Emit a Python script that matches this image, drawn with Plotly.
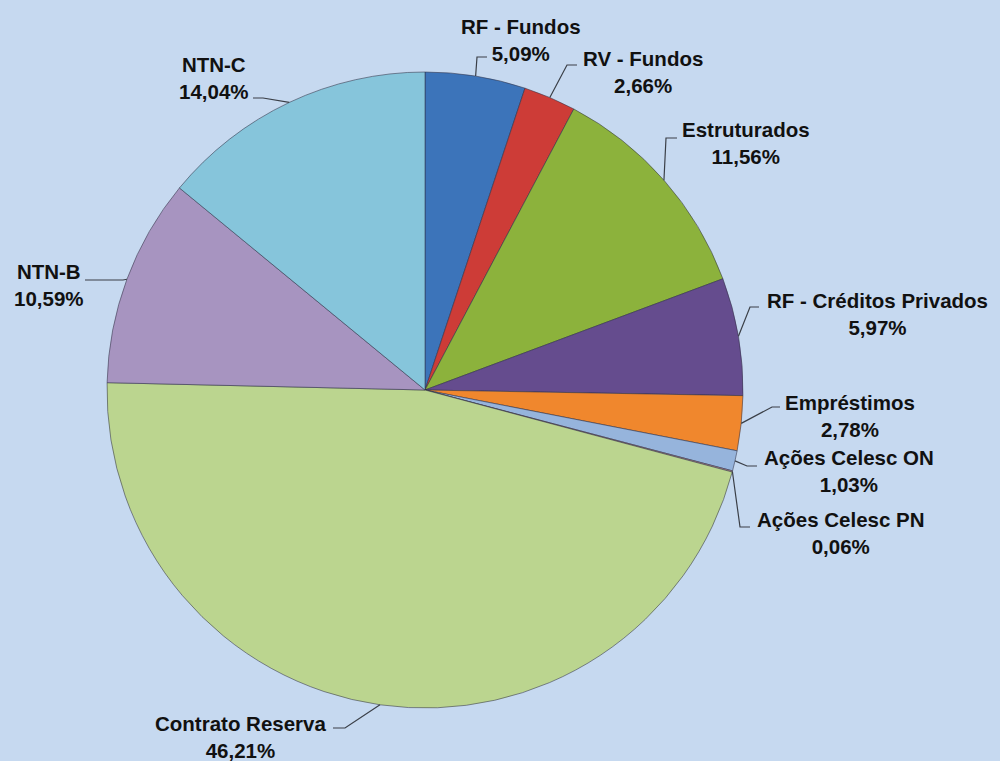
import math
import plotly.graph_objects as go

# dados
categorias = ["RF - Fundos", "RV - Fundos", "Estruturados", "RF - Créditos Privados",
              "Empréstimos", "Ações Celesc ON", "Ações Celesc PN", "Contrato Reserva",
              "NTN-B", "NTN-C"]
valores = [5.09, 2.66, 11.56, 5.97, 2.78, 1.03, 0.06, 46.21, 10.59, 14.04]
cores = ["#3C74BA", "#CD3C37", "#8CB23C", "#654C8E", "#F0872D", "#96B4DC",
         "#D99694", "#BBD58F", "#A794C0", "#86C5DB"]

W, H = 1000, 761
CX, CY, R = 425, 390, 318  # centro e raio da pizza em pixels

# posição dos rótulos (centro do texto) e do cotovelo da linha guia, em pixels
rotulos = {
    "RF - Fundos": dict(t=(521, 40), e=(477, 57), h=487),
    "RV - Fundos": dict(t=(643, 72), e=(567, 65), h=577),
    "Estruturados": dict(t=(746, 143), e=(666, 138), h=677),
    "RF - Créditos Privados": dict(t=(877, 314), e=(750, 307), h=759),
    "Empréstimos": dict(t=(850, 416), e=(772, 407), h=780),
    "Ações Celesc ON": dict(t=(849, 471), e=(747, 466), h=757),
    "Ações Celesc PN": dict(t=(841, 533), e=(740, 527), h=750),
    "Contrato Reserva": dict(t=(240, 737), e=(345, 728), h=333),
    "NTN-B": dict(t=(49, 285), e=(123, 280), h=85),
    "NTN-C": dict(t=(214, 78), e=(263, 98), h=253),
}


def px(x, y):
    return x / W, 1 - y / H


fig = go.Figure(go.Pie(
    labels=categorias,
    values=valores,
    sort=False,
    direction="clockwise",
    rotation=0,
    marker=dict(colors=cores, line=dict(color="rgba(50,50,70,0.55)", width=1)),
    textinfo="none",
    hoverinfo="label+percent",
    showlegend=False,
    domain=dict(x=[(CX - R) / W, (CX + R) / W], y=[1 - (CY + R) / H, 1 - (CY - R) / H]),
))

total = sum(valores)
acum = 0
for nome, v in zip(categorias, valores):
    meio = (acum + v / 2) / total * 2 * math.pi
    acum += v
    bx = CX + R * math.sin(meio)
    by = CY - R * math.cos(meio)
    cfg = rotulos[nome]
    ex, ey = cfg["e"]
    p0, p1, p2 = px(bx, by), px(ex, ey), px(cfg["h"], ey)
    fig.add_shape(
        type="path", xref="paper", yref="paper",
        path=f"M {p0[0]} {p0[1]} L {p1[0]} {p1[1]} L {p2[0]} {p2[1]}",
        line=dict(color="#3a3f47", width=1.2),
    )
    tx, ty = px(*cfg["t"])
    pct = f"{v:.2f}%".replace(".", ",")
    fig.add_annotation(
        x=tx, y=ty, xref="paper", yref="paper",
        text=f"<b>{nome}<br>{pct}</b>",
        showarrow=False, xanchor="center", yanchor="middle",
        font=dict(family="Liberation Sans, Arial", size=20.5, color="#111111"),
    )

fig.update_layout(
    width=W, height=H,
    margin=dict(l=0, r=0, t=0, b=0),
    paper_bgcolor="#C6D9F0",
    plot_bgcolor="#C6D9F0",
    font=dict(family="Liberation Sans, Arial"),
)

fig.write_html("out.html", config={"displayModeBar": False},
               post_script="document.body.style.margin='0';document.body.style.overflow='hidden';")
